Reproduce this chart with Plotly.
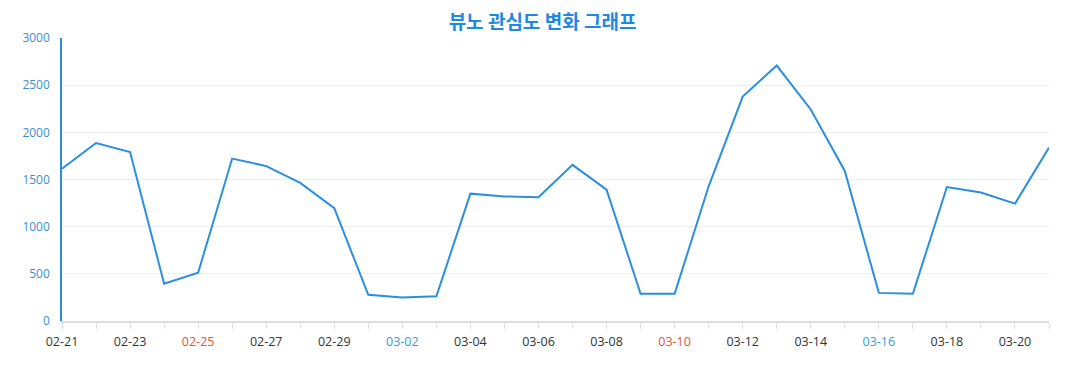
import plotly.graph_objects as go

dates = ["02-21","02-22","02-23","02-24","02-25","02-26","02-27","02-28","02-29",
         "03-01","03-02","03-03","03-04","03-05","03-06","03-07","03-08","03-09",
         "03-10","03-11","03-12","03-13","03-14","03-15","03-16","03-17","03-18",
         "03-19","03-20","03-21"]
values = [1615, 1887, 1791, 395, 512, 1722, 1642, 1464, 1196,
          277, 250, 262, 1350, 1320, 1311, 1655, 1392, 288,
          288, 1428, 2379, 2708, 2242, 1591, 298, 288, 1420,
          1362, 1244, 1838]
shown_labels = dates[::2]
label_colors = {"02-25": "#e0533a", "03-10": "#e0533a", "03-02": "#3a9ad9", "03-16": "#3a9ad9"}

ticktext = []
for d in dates:
    if d in shown_labels:
        c = label_colors.get(d, "#333333")
        ticktext.append(f"<span style='color:{c}'>{d}</span>")
    else:
        ticktext.append("")

fig = go.Figure()
fig.add_trace(go.Scatter(x=dates, y=values, mode="lines",
                         line=dict(color="#2a8fe0", width=2), hoverinfo="x+y"))

fig.update_layout(
    width=1069, height=382,
    margin=dict(l=54, r=28, t=30, b=69),
    paper_bgcolor="white", plot_bgcolor="white",
    showlegend=False,
    title=dict(text="<b>뷰노 관심도 변화 그래프</b>", x=0.5, xanchor="center",
               y=1 - 14 / 382, yanchor="middle",
               font=dict(family="Noto Sans CJK KR", size=19, color="#1e88e5")),
    font=dict(family="Open Sans, Noto Sans", size=12),
)
fig.update_xaxes(type="category", range=[0, len(dates) - 1],
                 tickmode="array", tickvals=dates, ticktext=ticktext,
                 ticks="outside", ticklen=6, tickcolor="#dddddd",
                 showline=True, linecolor="#dddddd", linewidth=2,
                 showgrid=False, tickangle=0, ticklabelstandoff=2,
                 tickfont=dict(size=12.5, color="#333333"))
fig.update_yaxes(range=[0, 3000], dtick=500, showgrid=True, gridcolor="#f0f0f0",
                 showline=True, linecolor="#2a8fe0", linewidth=1.5,
                 zeroline=False, ticks="", ticklabelstandoff=8,
                 tickfont=dict(size=12, color="#3a8fd0"))

fig.write_html("out.html")
